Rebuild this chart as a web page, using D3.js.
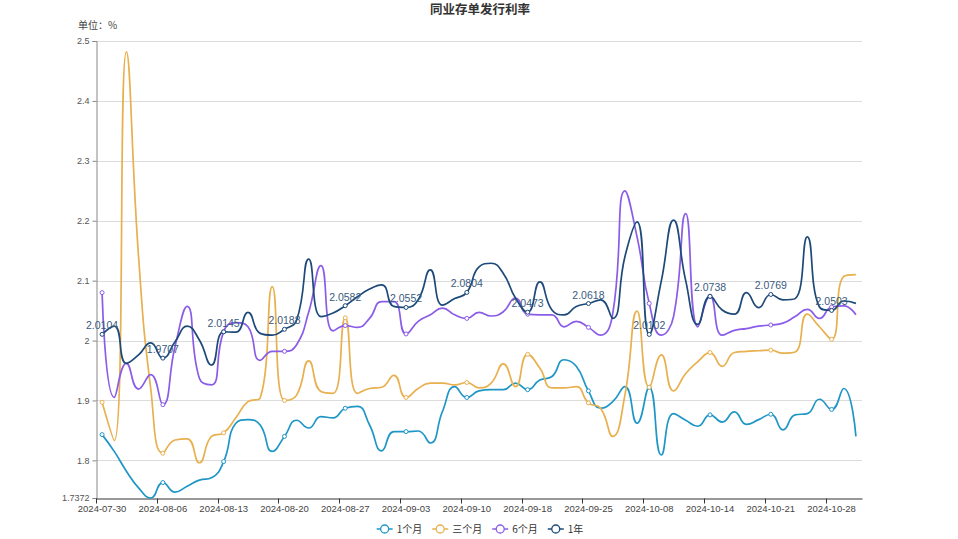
<!DOCTYPE html>
<html><head><meta charset="utf-8">
<script src="https://cdn.jsdelivr.net/npm/d3@7/dist/d3.min.js"></script>
<style>
body{margin:0;background:#fff;}
svg{display:block;font-family:"Noto Sans CJK SC","Noto Sans",sans-serif;}
</style>
</head><body>
<svg id="c" width="958" height="539"></svg>
<script>
const title = "同业存单发行利率";
const unitLabel = "单位：%";
const categories = ["2024-07-30","2024-07-31","2024-08-01","2024-08-02","2024-08-05","2024-08-06","2024-08-07","2024-08-08","2024-08-09","2024-08-12",
"2024-08-13","2024-08-14","2024-08-15","2024-08-16","2024-08-19","2024-08-20","2024-08-21","2024-08-22","2024-08-23","2024-08-26",
"2024-08-27","2024-08-28","2024-08-29","2024-08-30","2024-09-02","2024-09-03","2024-09-04","2024-09-05","2024-09-06","2024-09-09",
"2024-09-10","2024-09-11","2024-09-12","2024-09-13","2024-09-14","2024-09-18","2024-09-19","2024-09-20","2024-09-23","2024-09-24",
"2024-09-25","2024-09-26","2024-09-27","2024-09-29","2024-09-30","2024-10-08","2024-10-09","2024-10-10","2024-10-11","2024-10-12",
"2024-10-14","2024-10-15","2024-10-16","2024-10-17","2024-10-18","2024-10-21","2024-10-22","2024-10-23","2024-10-24","2024-10-25",
"2024-10-28","2024-10-29","2024-10-30"];
const seriesNames = ["1个月","三个月","6个月","1年"];
const seriesColors = ["#1e96c6","#e8b04e","#8a5ce8","#1d4a78"];
const m1 = [1.843,1.815,1.782,1.754,1.7372,1.763,1.747,1.757,1.767,1.771,
1.798,1.862,1.868,1.859,1.815,1.840,1.867,1.854,1.873,1.871,
1.887,1.890,1.859,1.816,1.848,1.848,1.849,1.829,1.882,1.923,
1.905,1.916,1.918,1.918,1.929,1.918,1.934,1.940,1.968,1.957,
1.916,1.887,1.898,1.923,1.862,1.922,1.809,1.878,1.867,1.857,
1.876,1.864,1.881,1.860,1.868,1.877,1.851,1.876,1.878,1.902,
1.885,1.920,1.840];
const m3 = [1.897,1.833,2.482,2.140,1.920,1.812,1.834,1.836,1.796,1.840,
1.846,1.871,1.898,1.904,2.090,1.900,1.909,1.966,1.915,1.912,
2.038,1.912,1.920,1.922,1.942,1.905,1.920,1.929,1.929,1.926,
1.930,1.921,1.929,1.961,1.923,1.977,1.954,1.921,1.921,1.923,
1.896,1.887,1.840,1.909,2.049,1.922,1.976,1.916,1.945,1.965,
1.980,1.957,1.980,1.982,1.983,1.984,1.979,1.981,2.044,2.023,
2.002,2.107,2.110];
const m6 = [2.080,1.905,1.962,1.919,1.943,1.893,1.990,2.057,1.937,1.926,
2.015,2.030,2.023,1.967,1.982,1.982,1.993,2.048,2.125,2.016,
2.025,2.022,2.037,2.065,2.065,2.011,2.032,2.043,2.054,2.043,
2.037,2.047,2.041,2.048,2.071,2.044,2.043,2.043,2.023,2.032,
2.022,2.009,2.045,2.250,2.173,2.062,2.009,2.040,2.212,2.023,
2.074,2.009,2.017,2.020,2.024,2.026,2.029,2.040,2.052,2.037,
2.056,2.058,2.043];
const y1 = [2.0104,2.024,1.962,1.976,1.996,1.9707,1.998,2.024,2.001,1.959,
2.0145,2.014,2.047,2.012,2.009,2.0188,2.034,2.136,2.040,2.046,
2.0582,2.073,2.086,2.093,2.057,2.0552,2.068,2.118,2.059,2.070,
2.0804,2.123,2.129,2.112,2.071,2.0473,2.098,2.051,2.043,2.057,
2.0618,2.068,2.037,2.140,2.198,2.0102,2.100,2.201,2.100,2.027,
2.0738,2.051,2.044,2.080,2.055,2.0769,2.068,2.070,2.173,2.056,
2.0503,2.066,2.062];
const seriesValues = [m1, m3, m6, y1];
const yTickValues = [2.5,2.4,2.3,2.2,2.1,2.0,1.9,1.8,1.7372];
const yMin = 1.7372, yMax = 2.5;
const labelEvery = 5;

// ECharts-like smooth curve (smooth = 0.5, with neighbour constraint)
function EChartsSmooth(context){ this._context = context; }
EChartsSmooth.prototype = {
  areaStart(){}, areaEnd(){},
  lineStart(){ this._pts = []; },
  point(x, y){ this._pts.push([+x, +y]); },
  lineEnd(){
    const p = this._pts, n = p.length, s = 0.5, ctx = this._context;
    if (!n) return;
    ctx.moveTo(p[0][0], p[0][1]);
    let cpx0 = p[0][0], cpy0 = p[0][1];
    for (let i = 1; i < n; i++) {
      const x = p[i][0], y = p[i][1];
      let cpx1 = x, cpy1 = y, nx0 = x, ny0 = y;
      if (i < n - 1) {
        const px = p[i-1][0], py = p[i-1][1], nx = p[i+1][0], ny = p[i+1][1];
        let vx = nx - px, vy = ny - py;
        const lp = Math.hypot(x - px, y - py), ln = Math.hypot(nx - x, ny - y);
        const r = ln / (ln + lp || 1);
        cpx1 = x - vx * s * (1 - r); cpy1 = y - vy * s * (1 - r);
        nx0 = x + vx * s * r; ny0 = y + vy * s * r;
        nx0 = Math.min(nx0, Math.max(nx, x)); ny0 = Math.min(ny0, Math.max(ny, y));
        nx0 = Math.max(nx0, Math.min(nx, x)); ny0 = Math.max(ny0, Math.min(ny, y));
        vx = nx0 - x; vy = ny0 - y;
        cpx1 = x - vx * lp / ln; cpy1 = y - vy * lp / ln;
        cpx1 = Math.min(cpx1, Math.max(px, x)); cpy1 = Math.min(cpy1, Math.max(py, y));
        cpx1 = Math.max(cpx1, Math.min(px, x)); cpy1 = Math.max(cpy1, Math.min(py, y));
        vx = x - cpx1; vy = y - cpy1;
        nx0 = x + vx * ln / lp; ny0 = y + vy * ln / lp;
      }
      ctx.bezierCurveTo(cpx0, cpy0, cpx1, cpy1, x, y);
      cpx0 = nx0; cpy0 = ny0;
    }
  }
};
const curveECharts = ctx => new EChartsSmooth(ctx);

const svg = d3.select("#c");
const W = 958, H = 539;
const grid = {left: 96, right: 862, top: 41, bottom: 498};

const x = d3.scaleBand().domain(categories).range([grid.left, grid.right]).padding(0);
const y = d3.scaleLinear().domain([yMin, yMax]).range([grid.bottom, grid.top]);
const cx = d => x(d) + x.bandwidth() / 2;

// title
svg.append("text").attr("x", 480).attr("y", 14).attr("text-anchor", "middle")
  .attr("font-size", 12.5).attr("font-weight", "bold").attr("fill", "#333").text(title);
svg.append("text").attr("x", 78).attr("y", 29).attr("font-size", 10).attr("fill", "#444").text(unitLabel);

// grid lines
svg.append("g").selectAll("line").data(yTickValues.filter(v => v !== yMin)).join("line")
  .attr("x1", grid.left).attr("x2", grid.right)
  .attr("y1", d => Math.round(y(d)) + 0.5).attr("y2", d => Math.round(y(d)) + 0.5)
  .attr("stroke", "#dcdcdc").attr("stroke-width", 1);

// y axis
const yAxis = d3.axisLeft(y).tickValues(yTickValues).tickSize(4).tickPadding(3)
  .tickFormat(d => d === yMin ? "1.7372" : d3.format("~g")(d));
const gy = svg.append("g").attr("transform", `translate(${grid.left + 0.5},0)`).call(yAxis);
gy.select(".domain").attr("stroke", "#888");
gy.selectAll(".tick line").attr("stroke", "#888");
gy.selectAll(".tick text").attr("font-size", 9).attr("fill", "#555").attr("font-family", "'Liberation Sans',Arial,sans-serif");

// x axis
const labeled = categories.filter((d, i) => i % labelEvery === 0);
const xAxis = d3.axisBottom(x).tickValues(labeled).tickSize(0).tickPadding(7);
const gx = svg.append("g").attr("transform", `translate(0,${grid.bottom + 0.5})`).call(xAxis);
gx.select(".domain").attr("stroke", "#333");
gx.selectAll(".tick text").attr("font-size", 9.5).attr("fill", "#444").attr("font-family", "'Liberation Sans',Arial,sans-serif");
gx.append("g").selectAll("line").data(labeled).join("line")
  .attr("x1", d => Math.round(x(d)) + 0.5).attr("x2", d => Math.round(x(d)) + 0.5)
  .attr("y1", 0).attr("y2", 5).attr("stroke", "#333");

// lines
const line = d3.line().x((d, i) => cx(categories[i])).y(d => y(d)).curve(curveECharts);
seriesValues.forEach((vals, s) => {
  svg.append("path").datum(vals).attr("d", line)
    .attr("fill", "none").attr("stroke", seriesColors[s]).attr("stroke-width", 1.7)
    .attr("stroke-linejoin", "round");
});
// markers
seriesValues.forEach((vals, s) => {
  svg.append("g").selectAll("circle")
    .data(vals.map((v, i) => ({v, i})).filter(d => d.i % labelEvery === 0))
    .join("circle")
    .attr("cx", d => cx(categories[d.i])).attr("cy", d => y(d.v)).attr("r", 2)
    .attr("fill", "#fff").attr("stroke", seriesColors[s]).attr("stroke-width", 1);
});
// labels for 1年
svg.append("g").selectAll("text")
  .data(y1.map((v, i) => ({v, i})).filter(d => d.i % labelEvery === 0))
  .join("text")
  .attr("x", d => cx(categories[d.i])).attr("y", d => y(d.v) - 5)
  .attr("text-anchor", "middle").attr("font-size", 10.5)
  .attr("font-family", "'Liberation Sans',Arial,sans-serif")
  .attr("fill", "#3a5a80").text(d => d.v.toFixed(4));

// legend
const lg = svg.append("g");
const fontLegend = 10;
let widths = seriesNames.map(n => {
  const t = lg.append("text").attr("font-size", fontLegend).text(n);
  const w = t.node().getComputedTextLength(); t.remove(); return w;
});
const iconW = 16, iconGap = 4, itemGap = 10;
const total = d3.sum(widths) + seriesNames.length * (iconW + iconGap) + (seriesNames.length - 1) * itemGap;
let lx = 480 - total / 2;
const ly = 529;
seriesNames.forEach((n, s) => {
  lg.append("line").attr("x1", lx).attr("x2", lx + iconW).attr("y1", ly).attr("y2", ly)
    .attr("stroke", seriesColors[s]).attr("stroke-width", 1.5);
  lg.append("circle").attr("cx", lx + iconW / 2).attr("cy", ly).attr("r", 4)
    .attr("fill", "#fff").attr("stroke", seriesColors[s]).attr("stroke-width", 1.3);
  lg.append("text").attr("x", lx + iconW + iconGap).attr("y", ly + 3.5)
    .attr("font-size", fontLegend).attr("fill", "#333").text(n);
  lx += iconW + iconGap + widths[s] + itemGap;
});
</script>
</body></html>
